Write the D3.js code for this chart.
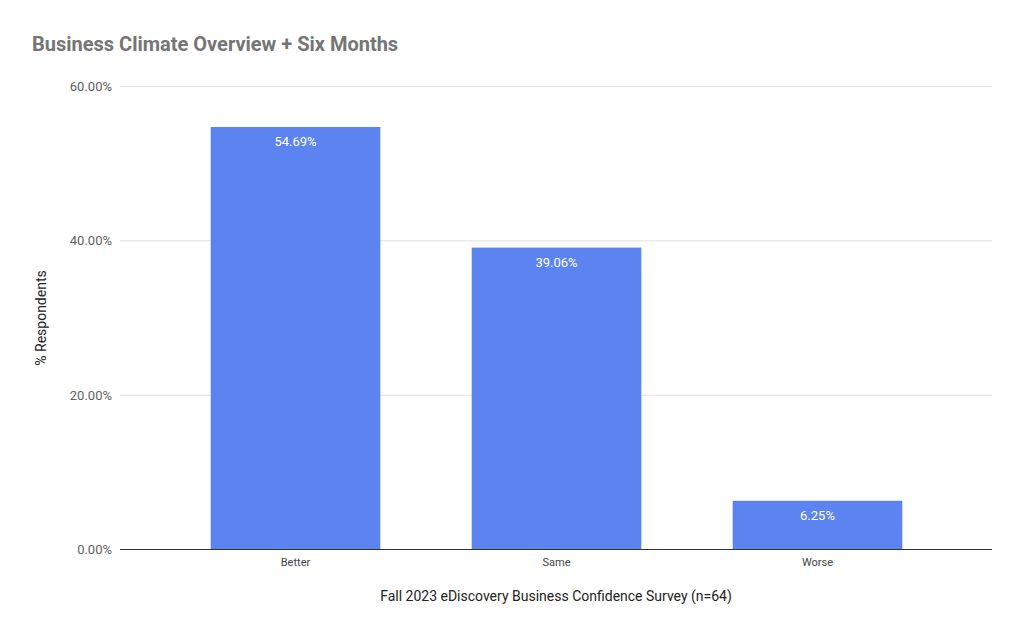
<!DOCTYPE html>
<html><head><meta charset="utf-8">
<script src="https://cdn.jsdelivr.net/npm/d3@7"></script>
<style>body{margin:0;background:#fff}text{font-family:Roboto,sans-serif}</style>
</head><body>
<script>
const categories = ["Better", "Same", "Worse"];
const values = [54.69, 39.06, 6.25];
const yTicks = [0, 20, 40, 60];

const width = 1024, height = 634;
const svg = d3.select("body").append("svg").attr("width", width).attr("height", height);

const x = d3.scaleBand().domain(categories).range([165, 948]).paddingInner(0.35).paddingOuter(0.175);
const y = d3.scaleLinear().domain([0, 60]).range([549, 86]);

svg.append("text").attr("x", 32).attr("y", 51).attr("font-size", 20).attr("font-weight", "bold")
  .attr("fill", "#757575").text("Business Climate Overview + Six Months");

// gridlines
svg.append("g").selectAll("line").data(yTicks).join("line")
  .attr("x1", 120).attr("x2", 992).attr("y1", d => y(d) + 0.5).attr("y2", d => y(d) + 0.5)
  .attr("stroke", d => d === 0 ? "#333" : "#e0e0e0");

svg.append("g").selectAll("text").data(yTicks).join("text")
  .attr("x", 112).attr("y", d => y(d) + 5).attr("text-anchor", "end")
  .attr("font-size", 13).attr("fill", "#616161").text(d => d.toFixed(2) + "%");

svg.append("g").selectAll("rect").data(values).join("rect")
  .attr("x", (d, i) => x(categories[i])).attr("width", x.bandwidth())
  .attr("y", d => y(d)).attr("height", d => y(0) - y(d)).attr("fill", "#5b84f0");

svg.append("g").selectAll("text").data(values).join("text")
  .attr("x", (d, i) => x(categories[i]) + x.bandwidth() / 2).attr("y", d => y(d) + 19)
  .attr("text-anchor", "middle").attr("font-size", 13).attr("fill", "#fff").text(d => d.toFixed(2) + "%");

svg.append("g").selectAll("text").data(categories).join("text")
  .attr("x", d => x(d) + x.bandwidth() / 2).attr("y", 566).attr("text-anchor", "middle")
  .attr("font-size", 11).attr("fill", "#444").text(d => d);

svg.append("text").attr("x", 556).attr("y", 601).attr("text-anchor", "middle")
  .attr("font-size", 14).attr("fill", "#222").text("Fall 2023 eDiscovery Business Confidence Survey (n=64)");

svg.append("text").attr("transform", "translate(46,318) rotate(-90)").attr("text-anchor", "middle")
  .attr("font-size", 14).attr("fill", "#222").text("% Respondents");
</script>
</body></html>
